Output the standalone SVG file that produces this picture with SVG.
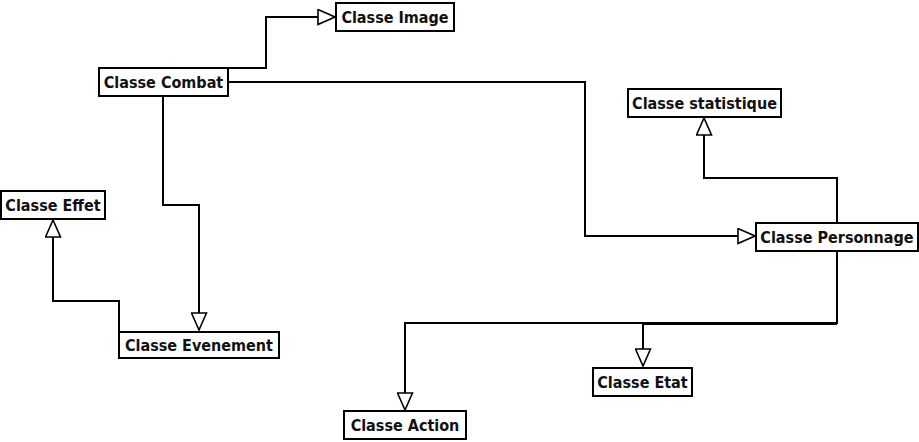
<svg xmlns="http://www.w3.org/2000/svg" width="919" height="442" viewBox="0 0 919 442">
<style>
.box{fill:#fff;stroke:#000;stroke-width:2}
.lbl{font-family:"DejaVu Sans Condensed","DejaVu Sans",sans-serif;font-weight:bold;font-size:16px;fill:#111;text-anchor:middle}
.con{fill:none;stroke:#000;stroke-width:2;marker-end:url(#tri)}
</style>
<defs>
<marker id="tri" viewBox="0 0 19 17" markerWidth="19" markerHeight="17" refX="18" refY="8.5" orient="auto" markerUnits="userSpaceOnUse">
<path d="M1,1 L18,8.5 L1,16 Z" fill="#fff" stroke="#000" stroke-width="1.6"/>
</marker>
</defs>
<rect width="919" height="442" fill="#fff"/>
<g id="connectors">
<path class="con" d="M228,68 H266 V17 H335"/>
<path class="con" d="M228,82 H585 V236 H755"/>
<path class="con" d="M163,96 V205 H199 V330"/>
<path class="con" d="M119,332 V301 H53 V220"/>
<path class="con" d="M837,223 V178 H704 V118"/>
<path class="con" d="M837,251 V323 H405 V410"/>
<path class="con" d="M837,324 H643 V366"/>
</g>
<g id="image"><rect class="box" x="336" y="3" width="118" height="28"/><text class="lbl" x="395" y="23">Classe Image</text></g>
<g id="combat"><rect class="box" x="99" y="68" width="129" height="28"/><text class="lbl" x="163.5" y="88">Classe Combat</text></g>
<g id="statistique"><rect class="box" x="628" y="89" width="153" height="28"/><text class="lbl" x="704.5" y="109">Classe statistique</text></g>
<g id="personnage"><rect class="box" x="756" y="223" width="162" height="28"/><text class="lbl" x="837" y="243">Classe Personnage</text></g>
<g id="effet"><rect class="box" x="1" y="191" width="104" height="28"/><text class="lbl" x="53" y="211">Classe Effet</text></g>
<g id="evenement"><rect class="box" x="119" y="332" width="160" height="26"/><text class="lbl" x="199" y="351">Classe Evenement</text></g>
<g id="etat"><rect class="box" x="593" y="368" width="99" height="28"/><text class="lbl" x="642.5" y="388">Classe Etat</text></g>
<g id="action"><rect class="box" x="344" y="411" width="122" height="28"/><text class="lbl" x="405" y="431">Classe Action</text></g>
</svg>
